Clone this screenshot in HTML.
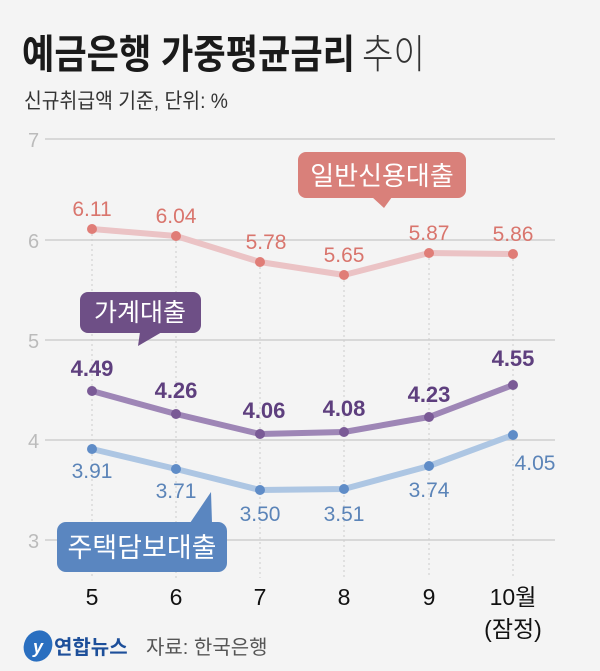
<!DOCTYPE html>
<html><head><meta charset="utf-8"><style>
body{margin:0;background:#f4f4f4;}
svg{display:block;font-family:"Liberation Sans","Noto Sans CJK KR",sans-serif;}
</style></head><body>
<svg width="600" height="671" viewBox="0 0 600 671">
<rect width="600" height="671" fill="#f4f4f4"/>
<text x="22" y="68" font-size="40" font-weight="bold" fill="#1a1a1a" textLength="333" lengthAdjust="spacingAndGlyphs">예금은행 가중평균금리</text>
<text x="362" y="68" font-size="40" fill="#333" font-weight="300" textLength="63" lengthAdjust="spacingAndGlyphs">추이</text>
<text x="24" y="108" font-size="21" fill="#333" textLength="204" lengthAdjust="spacingAndGlyphs">신규취급액 기준, 단위: %</text>
<g stroke="#cfcfcf" stroke-width="1.5">
<line x1="45" y1="139" x2="555" y2="139"/><line x1="45" y1="240" x2="555" y2="240"/>
<line x1="45" y1="340" x2="555" y2="340"/><line x1="45" y1="440" x2="555" y2="440"/>
<line x1="45" y1="540" x2="555" y2="540"/></g>
<g stroke="#ccc" stroke-width="1" stroke-dasharray="2,3">
<line x1="92" y1="229" x2="92" y2="578"/><line x1="176" y1="236" x2="176" y2="578"/>
<line x1="260" y1="262" x2="260" y2="578"/><line x1="344" y1="275" x2="344" y2="578"/>
<line x1="429" y1="253" x2="429" y2="578"/><line x1="513" y1="254" x2="513" y2="578"/></g>
<g font-size="20" fill="#bbb"><text x="28" y="147">7</text><text x="28" y="248">6</text><text x="28" y="348">5</text><text x="28" y="448">4</text><text x="28" y="548">3</text></g>
<polyline points="92,229 176,236 260,262 344,275 429,253 513,254" fill="none" stroke="#ebc3c5" stroke-width="6" stroke-linejoin="round"/>
<polyline points="92,391 176,414 260,434 344,432 429,417 513,385" fill="none" stroke="#9e86b6" stroke-width="6" stroke-linejoin="round"/>
<polyline points="92,449 176,469 260,490 344,489 429,466 513,435" fill="none" stroke="#adc6e3" stroke-width="6" stroke-linejoin="round"/>
<g fill="#e07d77"><circle cx="92" cy="229" r="5"/><circle cx="176" cy="236" r="5"/><circle cx="260" cy="262" r="5"/><circle cx="344" cy="275" r="5"/><circle cx="429" cy="253" r="5"/><circle cx="513" cy="254" r="5"/></g>
<g fill="#7a5a96"><circle cx="92" cy="391" r="5"/><circle cx="176" cy="414" r="5"/><circle cx="260" cy="434" r="5"/><circle cx="344" cy="432" r="5"/><circle cx="429" cy="417" r="5"/><circle cx="513" cy="385" r="5"/></g>
<g fill="#5f8cc7"><circle cx="92" cy="449" r="5"/><circle cx="176" cy="469" r="5"/><circle cx="260" cy="490" r="5"/><circle cx="344" cy="489" r="5"/><circle cx="429" cy="466" r="5"/><circle cx="513" cy="435" r="5"/></g>
<g font-size="21" fill="#d9756d" text-anchor="middle">
<text x="92" y="216">6.11</text><text x="176" y="223">6.04</text><text x="266" y="249">5.78</text><text x="344" y="262">5.65</text><text x="429" y="240">5.87</text><text x="513" y="241">5.86</text></g>
<g font-size="22" font-weight="bold" fill="#5e3f7e" text-anchor="middle">
<text x="92" y="376">4.49</text><text x="176" y="398">4.26</text><text x="264" y="418">4.06</text><text x="344" y="416">4.08</text><text x="429" y="402">4.23</text><text x="513" y="366">4.55</text></g>
<g font-size="21" fill="#5b84b8" text-anchor="middle">
<text x="92" y="478">3.91</text><text x="176" y="498">3.71</text><text x="260" y="521">3.50</text><text x="344" y="521">3.51</text><text x="429" y="497">3.74</text><text x="535" y="470">4.05</text></g>
<rect x="298" y="152" width="168" height="46" rx="8" fill="#d9807a"/>
<polygon points="372,197 392,197 384,208" fill="#d9807a"/>
<text x="382" y="185" font-size="26" fill="#fff" text-anchor="middle">일반신용대출</text>
<rect x="80" y="292" width="121" height="41" rx="8" fill="#6e4f86"/>
<polygon points="140,332 162,332 138,346" fill="#6e4f86"/>
<text x="140" y="321" font-size="25" fill="#fff" text-anchor="middle">가계대출</text>
<rect x="57" y="522" width="170" height="50" rx="9" fill="#5a86c0"/>
<polygon points="190,523 212,523 211,492" fill="#5a86c0"/>
<text x="142" y="557" font-size="27" fill="#fff" text-anchor="middle">주택담보대출</text>
<g font-size="23" fill="#111" text-anchor="middle">
<text x="92" y="605">5</text><text x="176" y="605">6</text><text x="260" y="605">7</text><text x="344" y="605">8</text><text x="429" y="605">9</text><text x="513" y="605">10월</text><text x="513" y="637">(잠정)</text></g>
<ellipse cx="38" cy="646" rx="14" ry="16" fill="#2a6fc0" transform="rotate(25 38 646)"/>
<text x="38" y="653" font-size="18" fill="#fff" text-anchor="middle" font-style="italic" font-weight="bold">y</text>
<text x="54" y="654" font-size="20" font-weight="bold" fill="#1d4f9a">연합뉴스</text>
<text x="146" y="654" font-size="20" fill="#555">자료: 한국은행</text>
</svg>
</body></html>
